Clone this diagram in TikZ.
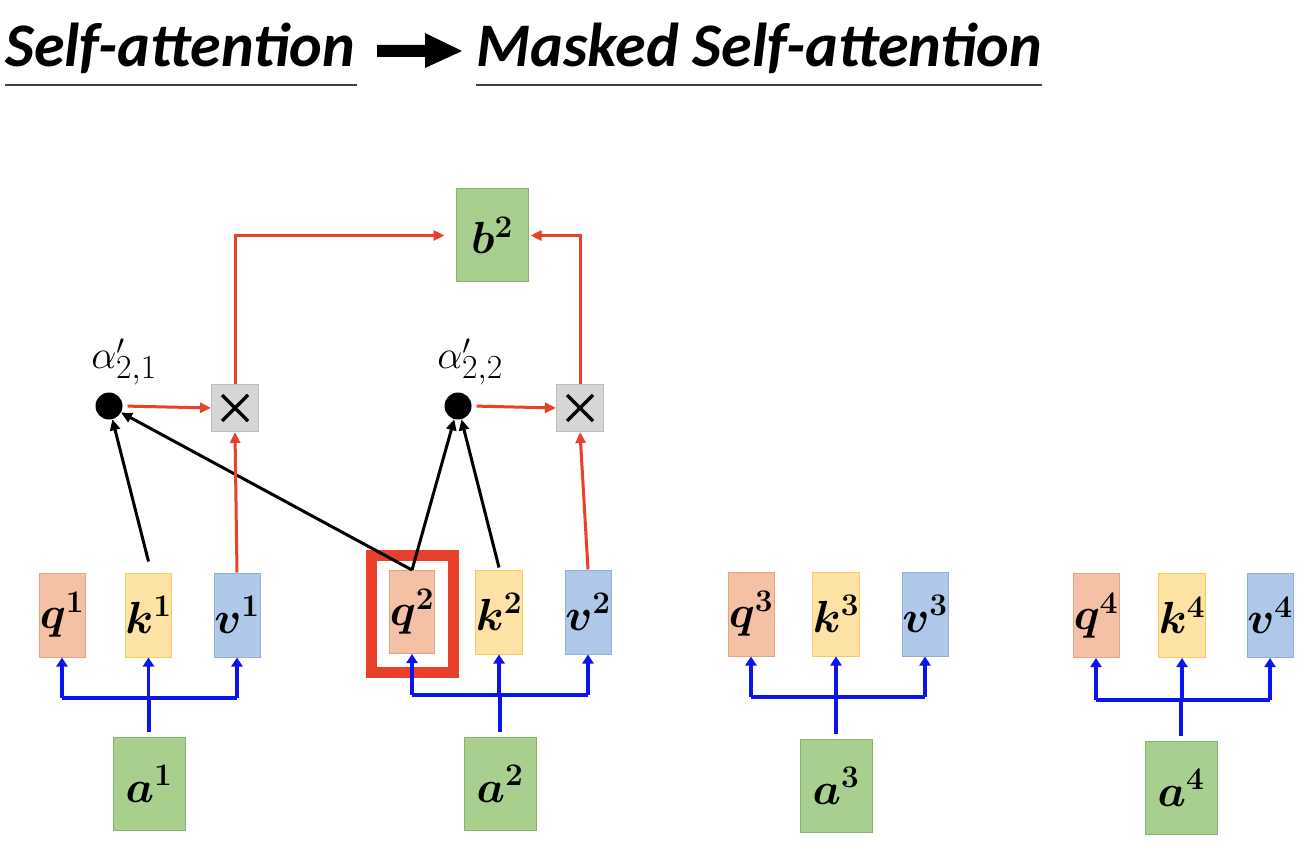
\RequirePackage{fix-cm}
\documentclass[tikz,border=0pt]{standalone}
\usepackage{fontspec}
\newfontfamily\titlefont{Carlito}
\usetikzlibrary{arrows.meta}
\definecolor{qfill}{HTML}{F4C1A5}
\definecolor{qdraw}{HTML}{E3A47E}
\definecolor{kfill}{HTML}{FDE3A3}
\definecolor{kdraw}{HTML}{F5CB5C}
\definecolor{vfill}{HTML}{AFC8E9}
\definecolor{vdraw}{HTML}{8EB0DB}
\definecolor{gfill}{HTML}{A9CF8F}
\definecolor{gdraw}{HTML}{8AB26E}
\definecolor{xfill}{HTML}{D6D6D6}
\definecolor{xdraw}{HTML}{BDBDBD}
\definecolor{redl}{HTML}{E8402A}
\definecolor{bluel}{HTML}{0A14F0}
\definecolor{ulc}{HTML}{404040}
\newcommand{\bigsub}[1]{\scalebox{1.2}{$\scriptstyle #1$}}
\begin{document}
\begin{tikzpicture}[x=1pt,y=-1pt,
  box/.style={draw, line width=1pt, minimum width=46pt, minimum height=84pt, inner sep=0pt,
    font=\fontsize{45}{48}\selectfont\boldmath},
  qbox/.style={box, fill=qfill, draw=qdraw},
  kbox/.style={box, fill=kfill, draw=kdraw},
  vbox/.style={box, fill=vfill, draw=vdraw},
  gbox/.style={box, fill=gfill, draw=gdraw, minimum width=72pt, minimum height=93pt},
  xbox/.style={draw=xdraw, fill=xfill, line width=1pt, minimum width=47pt, minimum height=47pt, inner sep=0pt,
    path picture={\draw[line width=3.5pt,black]
      ([shift={(-13pt,-13pt)}]path picture bounding box.center) -- ([shift={(13pt,13pt)}]path picture bounding box.center)
      ([shift={(-13pt,13pt)}]path picture bounding box.center) -- ([shift={(13pt,-13pt)}]path picture bounding box.center);}},
  dotn/.style={circle, fill=black, minimum size=27pt, inner sep=0pt},
  lab/.style={font=\fontsize{40}{42}\selectfont, inner sep=0pt},
  bl/.style={draw=bluel, line width=3.5pt},
  bla/.style={bl, -{Triangle[length=9pt,width=11pt]}},
  rd/.style={draw=redl, line width=3pt, -{Triangle[length=11pt,width=10pt]}},
  blk/.style={draw=black, line width=3pt, -{Triangle[length=11pt,width=10pt]}},
  ttl/.style={anchor=base west, inner sep=0pt, font=\titlefont\bfseries\itshape\fontsize{62}{62}\selectfont},
  ul/.style={draw=ulc, line width=2pt}
]
\useasboundingbox (0,0) rectangle (1304,842);

% title
\node[ttl] (t1) at (5,67) {Self-attention};
\node[ttl] (t2) at (476,67) {Masked Self-attention};
\draw[ul] (5,85) -- (357,85);
\draw[ul] (476,85) -- (1042,85);
\fill[black] (377,45) -- (425,45) -- (425,33) -- (462,51) -- (425,68) -- (425,57) -- (377,57) -- cycle;

% red frame
\node[draw=redl, line width=11pt, minimum width=82pt, minimum height=117pt, inner sep=0pt] (fr) at (412.5,614) {};

% qkv boxes
\node[qbox] (q1) at (62,615) {$q^1$};
\node[kbox] (k1) at (148.5,615) {$k^1$};
\node[vbox] (v1) at (237,615) {$v^1$};
\node[qbox, minimum width=45pt, minimum height=83pt] (q2) at (412,612) {$q^2$};
\node[kbox] (k2) at (499,612) {$k^2$};
\node[vbox] (v2) at (588,612) {$v^2$};
\node[qbox] (q3) at (751,614) {$q^3$};
\node[kbox] (k3) at (836,614) {$k^3$};
\node[vbox] (v3) at (925,614) {$v^3$};
\node[qbox] (q4) at (1096,615.5) {$q^4$};
\node[kbox] (k4) at (1182,615.5) {$k^4$};
\node[vbox] (v4) at (1270,615.5) {$v^4$};

% inputs
\node[gbox] (a1) at (149,784) {$a^1$};
\node[gbox] (a2) at (500,784) {$a^2$};
\node[gbox] (a3) at (836,786) {$a^3$};
\node[gbox] (a4) at (1181,788) {$a^4$};
\node[gbox] (b2) at (492,235.5) {$b^2$};

% dots and multipliers
\node[dotn] (d1) at (109,406) {};
\node[dotn] (d2) at (458,406) {};
\node[lab] (l1) at (124,362) {$\alpha'_{\bigsub{2,1}}$};
\node[lab] (l2) at (470,362) {$\alpha'_{\bigsub{2,2}}$};
\node[xbox] (x1) at (235,408) {};
\node[xbox] (x2) at (580,408) {};

% blue connectors
\coordinate (h1) at (0,698);
\coordinate (h2) at (0,695);
\coordinate (h3) at (0,697);
\coordinate (h4) at (0,700);
\foreach \i in {1,2,3,4}{
  \draw[bl] ([yshift=5pt]a\i.north) -- (a\i.north |- h\i);
  \draw[bl] (q\i.south |- h\i) -- (v\i.south |- h\i);
  \draw[bla] (q\i.south |- h\i) -- (q\i.south);
  \draw[bla] (k\i.south |- h\i) -- (k\i.south);
  \draw[bla] (v\i.south |- h\i) -- (v\i.south);
}

% black connectors
\draw[blk] ([yshift=11pt]k1.north) -- (d1);
\draw[blk] (q2.north) -- (d1);
\draw[blk] (q2.north) -- (d2);
\draw[blk] ([yshift=2pt]k2.north) -- (d2);

% red connectors
\draw[rd, shorten <=5pt] (d1.east) -- (x1.west);
\draw[rd, shorten <=5pt] (d2.east) -- (x2.west);
\draw[rd] (v1.north) -- (x1.south);
\draw[rd] (v2.north) -- (x2.south);
\draw[rd, shorten >=11pt] (x1.north) |- (b2.west);
\draw[rd, shorten >=2pt] (x2.north) |- (b2.east);
\end{tikzpicture}
\end{document}
